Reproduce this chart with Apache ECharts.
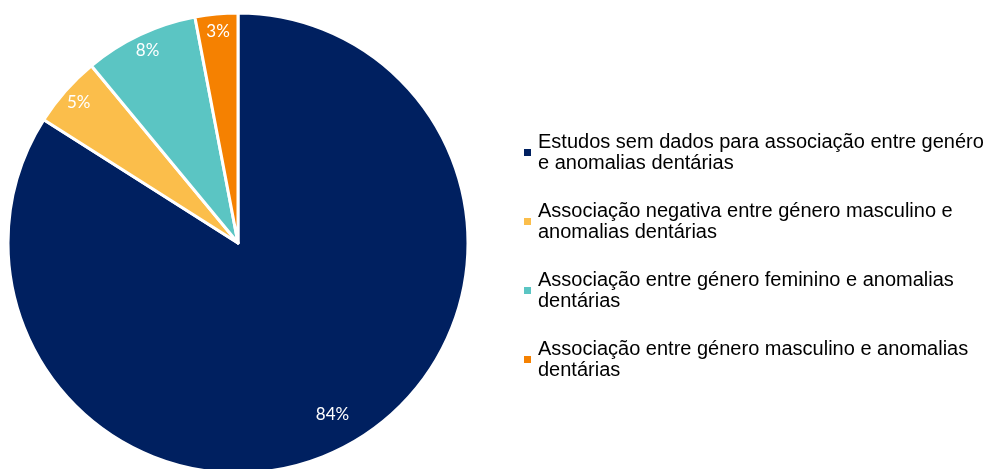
<!DOCTYPE html>
<html>
<head>
<meta charset="utf-8">
<script src="https://cdn.jsdelivr.net/npm/echarts@6/dist/echarts.min.js"></script>
<style>
  html, body { margin: 0; padding: 0; background: #fff; }
  #chart { width: 989px; height: 469px; }
</style>
</head>
<body>
<div id="chart"></div>
<script>
// Distribution of studies by reported association between gender and dental anomalies (%)
const categories = [
  'Estudos sem dados para associação entre genéro\ne anomalias dentárias',
  'Associação negativa entre género masculino e\nanomalias dentárias',
  'Associação entre género feminino e anomalias\ndentárias',
  'Associação entre género masculino e anomalias\ndentárias'
];
const values = [84, 5, 8, 3];
const colors = ['#002060', '#FBBE4B', '#5BC5C3', '#F58101'];

const chart = echarts.init(document.getElementById('chart'), null, { renderer: 'canvas' });

const pieData = categories.map((name, i) => ({
  name,
  value: values[i],
  itemStyle: { color: colors[i] }
}));

const center = [238, 243];
const radius = 230;

const labelStyle = {
  show: true,
  position: 'inside',
  formatter: '{c}%',
  color: '#fff',
  fontFamily: 'Lato, "Open Sans", sans-serif',
  fontSize: 17
};

// transparent ring whose slices only carry the percentage text;
// `showFor` picks which slices print their label on this ring
function labelRing(inner, showFor) {
  return {
    type: 'pie',
    center: center,
    radius: [radius * inner, radius],
    startAngle: 90,
    clockwise: true,
    silent: true,
    data: pieData.map((d, i) => ({
      name: d.name,
      value: d.value,
      itemStyle: { color: 'rgba(0,0,0,0)' },
      label: { show: showFor(i) }
    })),
    itemStyle: { borderWidth: 0 },
    label: labelStyle,
    labelLine: { show: false },
    emphasis: { disabled: true }
  };
}

chart.setOption({
  animation: false,
  color: colors,
  legend: {
    orient: 'vertical',
    left: 524,
    top: 121,
    padding: 0,
    itemWidth: 7,
    itemHeight: 7,
    itemGap: 6,
    icon: 'rect',
    selectedMode: false,
    data: categories,
    itemStyle: { borderWidth: 0 },
    textStyle: {
      fontFamily: 'Liberation Sans, Arial, sans-serif',
      fontSize: 20,
      color: '#000',
      lineHeight: 21,
      padding: [21, 0, 0, 2]
    }
  },
  series: [
    {
      name: 'Estudos',
      type: 'pie',
      center: center,
      radius: [0, radius],
      startAngle: 90,
      clockwise: true,
      data: pieData,
      itemStyle: { borderColor: '#fff', borderWidth: 3 },
      label: { show: false },
      labelLine: { show: false },
      emphasis: { disabled: true }
    },
    // small slices: labels close to the rim
    labelRing(0.82, i => i !== 0),
    // the large slice: label a little further inward
    labelRing(0.68, i => i === 0)
  ]
});
</script>
</body>
</html>
